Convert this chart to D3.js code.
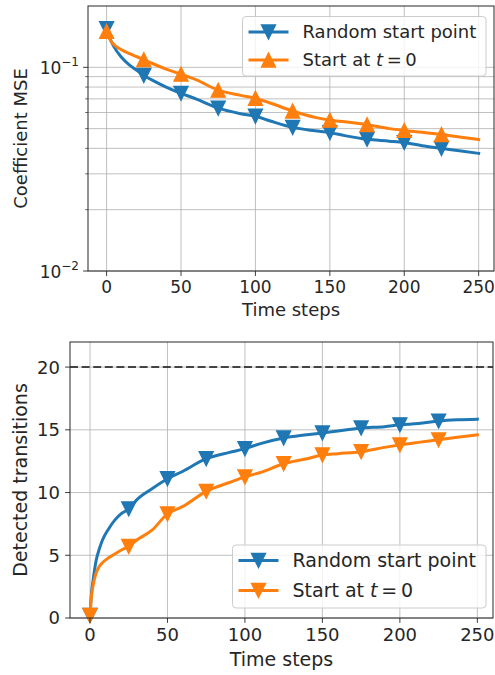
<!DOCTYPE html>
<html><head><meta charset="utf-8">
<script src="https://cdn.jsdelivr.net/npm/d3@7"></script>
<style>
body{margin:0;background:#fff}
svg{display:block}
text{font-family:"DejaVu Sans",sans-serif;fill:#262626}
</style>
</head><body>
<svg id="c" width="495" height="675"></svg>
<script>
// ---- data ----
const mseT = [0,2,5,10,15,20,25,30,40,50,60,75,90,100,110,125,140,150,160,175,190,200,212,225,237,250];
const mseRandom = [0.155,0.140,0.126,0.112,0.103,0.097,0.0912,0.087,0.080,0.0745,0.0700,0.0630,0.0592,0.0575,0.0545,0.0507,0.0488,0.0478,0.0462,0.0443,0.0434,0.0427,0.0412,0.0400,0.0389,0.0378];
const mseStart = [0.150,0.138,0.129,0.122,0.117,0.113,0.109,0.105,0.098,0.0925,0.087,0.0772,0.0728,0.0705,0.0668,0.0610,0.0568,0.0550,0.0540,0.0523,0.0500,0.0490,0.0480,0.0468,0.0455,0.0442];

const detT = [0,1,2,4,6,8,12,16,20,25,30,40,50,60,75,90,100,110,125,140,150,160,175,190,200,212,225,237,250];
const detRandom = [0.2,2.0,3.0,4.6,5.5,6.2,7.1,7.8,8.3,8.7,9.4,10.3,11.1,11.7,12.7,13.2,13.5,13.9,14.35,14.6,14.75,14.9,15.15,15.25,15.4,15.5,15.7,15.8,15.85];
const detStart = [0.2,1.8,2.6,3.6,4.1,4.4,4.8,5.1,5.4,5.7,6.2,7.0,8.3,8.9,10.1,10.8,11.25,11.6,12.3,12.7,13.0,13.1,13.25,13.6,13.8,14.0,14.2,14.4,14.6];

const markerT = [0,25,50,75,100,125,150,175,200,225];
const xTicks = [0,50,100,150,200,250];
const mseMajorTicks = [0.01,0.1];
const mseMajorExp = ["\u22122","\u22121"];
const mseMinorTicks = [0.02,0.03,0.04,0.05,0.06,0.07,0.08,0.09];
const detTicks = [0,5,10,15,20];
const targetCount = 20;
const seriesNames = ["Random start point","Start at "];
const colors = ["#1f77b4","#ff7f0e"];
const xLabel = "Time steps";
const mseLabel = "Coefficient MSE";
const detLabel = "Detected transitions";

// ---- drawing ----
const svg = d3.select("#c");
const gridCol = "#b0b0b0", axCol = "#262626";

function tri(size, down){
  const h = size/2;
  return down ? `M0,${h}L${-h},${-h}L${h},${-h}Z` : `M0,${-h}L${-h},${h}L${h},${h}Z`;
}

function panel(cfg){
  const g = svg.append("g");
  const {L,R,T,B,x,y} = cfg;
  // grid
  xTicks.forEach(v=>g.append("line").attr("x1",x(v)).attr("x2",x(v)).attr("y1",T).attr("y2",B)
    .attr("stroke",gridCol).attr("stroke-width",0.8));
  cfg.gridY.forEach(v=>g.append("line").attr("x1",L).attr("x2",R).attr("y1",y(v)).attr("y2",y(v))
    .attr("stroke",gridCol).attr("stroke-width",0.8));
  if(cfg.extra) cfg.extra(g);
  // series
  const line = d3.line().x(d=>x(d[0])).y(d=>y(d[1])).curve(d3.curveMonotoneX);
  cfg.series.forEach((s,i)=>{
    const pts = s.t.map((t,k)=>[t,s.v[k]]);
    g.append("path").attr("d",line(pts)).attr("fill","none").attr("stroke",colors[i])
      .attr("stroke-width",3).attr("stroke-linejoin","round").attr("stroke-linecap","square");
    pts.filter(p=>markerT.includes(p[0])).forEach(p=>{
      g.append("path").attr("d",tri(13.9,s.down)).attr("transform",`translate(${x(p[0])},${y(p[1])})`)
        .attr("fill",colors[i]).attr("stroke",colors[i]).attr("stroke-width",1.4).attr("stroke-linejoin","miter");
    });
  });
  // frame
  g.append("rect").attr("x",L).attr("y",T).attr("width",R-L).attr("height",B-T)
    .attr("fill","none").attr("stroke",axCol).attr("stroke-width",1);
  // x ticks
  xTicks.forEach(v=>{
    g.append("line").attr("x1",x(v)).attr("x2",x(v)).attr("y1",B).attr("y2",B+4.9).attr("stroke",axCol).attr("stroke-width",0.9);
    g.append("text").attr("x",x(v)).attr("y",B+9.5+0.73*cfg.tfs).attr("text-anchor","middle")
      .attr("font-size",cfg.tfs).text(v);
  });
  g.append("text").attr("x",(L+R)/2).attr("y",cfg.xlabY).attr("text-anchor","middle")
    .attr("font-size",cfg.lfs).text(xLabel);
  g.append("text").attr("transform",`translate(26.5,${(T+B)/2}) rotate(-90)`).attr("text-anchor","middle")
    .attr("font-size",cfg.lfs).text(cfg.ylabel);
  cfg.yTickFn(g);
  // legend
  const lg = g.append("g");
  const Lx = cfg.leg.x, Ly = cfg.leg.y;
  lg.append("rect").attr("x",Lx).attr("y",Ly).attr("width",cfg.leg.w).attr("height",cfg.leg.h)
    .attr("rx",3.5).attr("fill","#fff").attr("fill-opacity",0.8).attr("stroke","#cccccc").attr("stroke-width",1);
  cfg.series.forEach((s,i)=>{
    const cy = Ly + cfg.leg.r0 + i*cfg.leg.dr;
    const hx = Lx + 6;
    lg.append("line").attr("x1",hx).attr("x2",hx+40).attr("y1",cy).attr("y2",cy)
      .attr("stroke",colors[i]).attr("stroke-width",3);
    lg.append("path").attr("d",tri(13.9,s.down)).attr("transform",`translate(${hx+20},${cy})`)
      .attr("fill",colors[i]).attr("stroke",colors[i]).attr("stroke-width",1.4);
    const t = lg.append("text").attr("x",hx+54).attr("y",cy+0.36*cfg.lfs).attr("font-size",cfg.lfs);
    t.append("tspan").text(seriesNames[i]);
    if(i===1){
      t.append("tspan").attr("font-style","italic").text("t");
      t.append("tspan").text("\u2009=\u20090");
    }
  });
}

// top panel
(function(){
  const L=88,R=494,T=6,B=271;
  const x = d3.scaleLinear().domain([-12.5,260.3]).range([L,R]);
  const y = d3.scaleLog().domain([0.01,0.2]).range([B,T]);
  panel({L,R,T,B,x,y,tfs:17,lfs:18,xlabY:316,ylabel:mseLabel,
    gridY:[...mseMajorTicks,...mseMinorTicks],
    series:[{t:mseT,v:mseRandom,down:true},{t:mseT,v:mseStart,down:false}],
    leg:{x:242.5,y:16.5,w:243.5,h:59.5,r0:15.5,dr:28},
    yTickFn:g=>{
      mseMinorTicks.forEach(v=>g.append("line").attr("x1",L-2.8).attr("x2",L).attr("y1",y(v)).attr("y2",y(v)).attr("stroke",axCol).attr("stroke-width",0.7));
      mseMajorTicks.forEach((v,i)=>{
        g.append("line").attr("x1",L-4.9).attr("x2",L).attr("y1",y(v)).attr("y2",y(v)).attr("stroke",axCol).attr("stroke-width",0.9);
        const t = g.append("text").attr("x",79).attr("y",y(v)+7).attr("text-anchor","end").attr("font-size",17);
        t.append("tspan").text("10");
        t.append("tspan").attr("font-size",12).attr("dy",-8).text(mseMajorExp[i]);
      });
    }
  });
})();

// bottom panel
(function(){
  const L=70,R=493,T=342,B=618;
  const x = d3.scaleLinear().domain([-12.9,260.1]).range([L,R]);
  const y = d3.scaleLinear().domain([0,22]).range([B,T]);
  panel({L,R,T,B,x,y,tfs:18,lfs:19,xlabY:665.5,ylabel:detLabel,
    gridY:detTicks,
    series:[{t:detT,v:detRandom,down:true},{t:detT,v:detStart,down:true}],
    leg:{x:232.5,y:545,w:253.5,h:63,r0:15.5,dr:30},
    extra:g=>{
      g.append("line").attr("x1",L).attr("x2",R).attr("y1",y(targetCount)).attr("y2",y(targetCount))
        .attr("stroke","#111").attr("stroke-width",1.5).attr("stroke-dasharray","8,3.6");
    },
    yTickFn:g=>{
      detTicks.forEach(v=>{
        g.append("line").attr("x1",L-4.9).attr("x2",L).attr("y1",y(v)).attr("y2",y(v)).attr("stroke",axCol).attr("stroke-width",0.9);
        g.append("text").attr("x",60).attr("y",y(v)+0.36*18).attr("text-anchor","end").attr("font-size",18).text(v);
      });
    }
  });
})();
</script>
</body></html>
